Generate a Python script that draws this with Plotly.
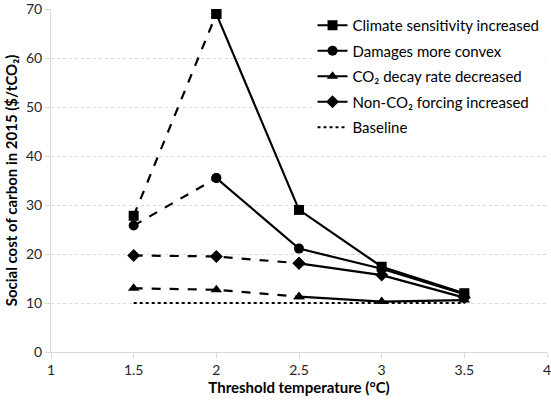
import plotly.graph_objects as go

temps = [1.5, 2.0, 2.5, 3.0, 3.5]
climate_sens = [27.8, 69.0, 29.0, 17.4, 12.0]
damages_convex = [25.8, 35.5, 21.1, 17.0, 11.8]
co2_decay = [13.0, 12.7, 11.3, 10.3, 10.6]
nonco2_forcing = [19.7, 19.5, 18.1, 15.7, 11.1]
baseline = [10.0, 10.0, 10.0, 10.0, 10.0]

x_ticks = [1, 1.5, 2, 2.5, 3, 3.5, 4]
x_tick_labels = ["1", "1.5", "2", "2.5", "3", "3.5", "4"]

series = [
    ("Climate sensitivity increased", climate_sens, "square", 2),
    ("Damages more convex", damages_convex, "circle", 2),
    ("CO₂ decay rate decreased", co2_decay, "triangle-up", 3),
    ("Non-CO₂ forcing increased", nonco2_forcing, "diamond", 3),
]

fig = go.Figure()
for i, (name, vals, sym, split) in enumerate(series):
    fig.add_trace(go.Scatter(
        x=temps[:split], y=vals[:split], mode="lines+markers",
        line=dict(color="black", width=2.2, dash="dash"),
        marker=dict(symbol=sym, size=10, color="black"),
        showlegend=False, legendgroup=f"g{i}", hoverinfo="skip"))
    fig.add_trace(go.Scatter(
        x=temps[split - 1:], y=vals[split - 1:], mode="lines+markers",
        name=name, legendgroup=f"g{i}",
        line=dict(color="black", width=2.2),
        marker=dict(symbol=sym, size=10, color="black")))

fig.add_trace(go.Scatter(
    x=temps, y=baseline, mode="lines", name="Baseline", legendgroup="g9",
    line=dict(color="black", width=2.2, dash="dot")))

font_family = "Lato, 'Open Sans', sans-serif"
fig.update_layout(
    width=551, height=400,
    margin=dict(l=51, r=4, t=9, b=48, autoexpand=False),
    paper_bgcolor="white", plot_bgcolor="white",
    font=dict(family=font_family, size=14, color="#262626"),
    showlegend=True,
    legend=dict(x=0.995, y=1.0, xanchor="right", yanchor="top",
                bgcolor="rgba(255,255,255,1)", font=dict(size=15, color="#000"),
                tracegroupgap=3, traceorder="grouped", itemwidth=30),
    xaxis=dict(range=[1, 4], tickvals=x_ticks, ticktext=x_tick_labels,
               showgrid=False, showline=True, linecolor="#d9d9d9", linewidth=1,
               ticks="outside", tickcolor="#d9d9d9", ticklen=5,
               zeroline=False, automargin=False, ticklabeloverflow="allow",
               title=dict(text="<b>Threshold temperature (°C)</b>", font=dict(size=15, color="#000"), standoff=4)),
    yaxis=dict(range=[0, 70], dtick=10, showgrid=True, gridcolor="#d9d9d9",
               griddash="dot", showline=True, linecolor="#d9d9d9", linewidth=1,
               ticks="outside", tickcolor="#d9d9d9", ticklen=5, zeroline=False,
               automargin=False, ticklabeloverflow="allow",
               title=dict(text="<b>Social cost of carbon in 2015 ($/tCO₂)</b>", font=dict(size=15, color="#000"), standoff=4)),
)

fig.write_html("out.html")
